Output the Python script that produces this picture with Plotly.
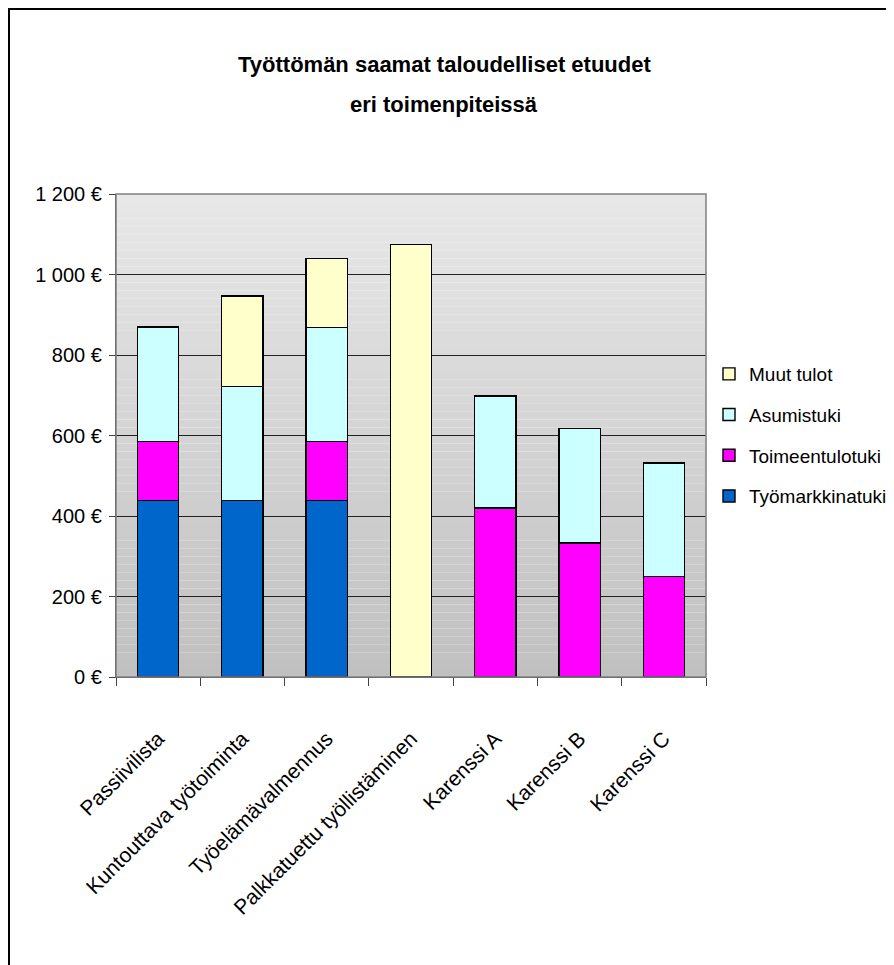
import plotly.graph_objects as go

# ---- data ----
categories = ["Passiivilista", "Kuntouttava työtoiminta", "Työelämävalmennus",
              "Palkkatuettu työllistäminen", "Karenssi A", "Karenssi B", "Karenssi C"]
tyomarkkinatuki = [439, 439, 439, None, None, None, None]
toimeentulotuki = [146, None, 146, None, 420, 333, 250]
asumistuki = [285, 283, 284, None, 278, 284, 282]
muut_tulot = [None, 225, 171, 1074, None, None, None]
y_tick_values = [0, 200, 400, 600, 800, 1000, 1200]
y_tick_labels = ["0 €", "200 €", "400 €", "600 €", "800 €", "1 000 €", "1 200 €"]
title_lines = ["Työttömän saamat taloudelliset etuudet", "eri toimenpiteissä"]

series = [
    ("Työmarkkinatuki", tyomarkkinatuki, "#0066CC", 4),
    ("Toimeentulotuki", toimeentulotuki, "#FF00FF", 3),
    ("Asumistuki", asumistuki, "#CCFFFF", 2),
    ("Muut tulot", muut_tulot, "#FFFFCC", 1),
]

FONT = "Liberation Sans, Arial, sans-serif"

fig = go.Figure()
for name, vals, col, rank in series:
    fig.add_trace(go.Bar(
        x=categories, y=vals, name=name, legendgroup=name, legendrank=rank,
        marker=dict(color=col, line=dict(color="#000000", width=1.4)),
    ))

# page offset (body margin) compensation
OFF = 8
W, H = 886, 957
# target screen coords of plot area: x 116..706, y 194..677
L, R, T, B = 116 - OFF, W - (706 - OFF), 194 - OFF, H - (677 - OFF)
pw, ph = W - L - R, H - T - B
def px(xs):
    return (xs - OFF - L) / pw
def py(ys):
    return (H - B - (ys - OFF)) / ph

# gradient background of plot area
shapes = []
n = 60
top = (0xE8, 0xE8, 0xE8)
bot = (0xC0, 0xC0, 0xC0)
for i in range(n):
    t = (i + 0.5) / n
    c = tuple(round(bot[k] + (top[k] - bot[k]) * t) for k in range(3))
    shapes.append(dict(type="rect", xref="paper", yref="paper",
                       x0=0, x1=1, y0=i / n, y1=(i + 1) / n,
                       fillcolor="rgb(%d,%d,%d)" % c, line=dict(width=0),
                       layer="below"))
# grey plot frame (top/right)
shapes.append(dict(type="rect", xref="paper", yref="paper", x0=0, x1=1, y0=0, y1=1,
                   line=dict(color="#808080", width=1.5), layer="above"))
# outer chart border
shapes.append(dict(type="rect", xref="paper", yref="paper",
                   x0=px(9), x1=px(910), y0=py(990), y1=py(9),
                   line=dict(color="#000000", width=2), layer="above"))

annotations = [
    dict(text="<b>%s</b>" % title_lines[0], xref="paper", yref="paper",
         x=px(444), y=py(64), showarrow=False, xanchor="center", yanchor="middle",
         font=dict(family=FONT, size=22, color="#000000")),
    dict(text="<b>%s</b>" % title_lines[1], xref="paper", yref="paper",
         x=px(444), y=py(104), showarrow=False, xanchor="center", yanchor="middle",
         font=dict(family=FONT, size=22, color="#000000")),
]

fig.update_layout(
    width=W, height=H,
    margin=dict(l=L, r=R, t=T, b=B, pad=0, autoexpand=False),
    barmode="stack", bargap=0.51,
    paper_bgcolor="#FFFFFF", plot_bgcolor="rgba(0,0,0,0)",
    font=dict(family=FONT, size=20, color="#000000"),
    shapes=shapes, annotations=annotations,
    showlegend=True,
    legend=dict(x=px(709), y=py(435), xanchor="left", yanchor="middle",
                traceorder="grouped", tracegroupgap=13,
                font=dict(family=FONT, size=19, color="#000000"),
                bgcolor="rgba(0,0,0,0)"),
    xaxis=dict(type="category", tickson="boundaries", ticks="outside", ticklen=8,
               tickcolor="#404040", tickwidth=1.2, showline=True, linecolor="#404040",
               linewidth=1.2, tickangle=-45, showgrid=False, automargin=False,
               ticklabelstandoff=40,
               tickfont=dict(family=FONT, size=21, color="#000000")),
    yaxis=dict(range=[0, 1200], tickvals=y_tick_values, ticktext=y_tick_labels,
               ticks="outside", ticklen=6, tickcolor="#404040", tickwidth=1.2,
               showline=True, linecolor="#404040", linewidth=1.2,
               showgrid=True, gridcolor="#222222", gridwidth=1,
               zeroline=False, ticklabelstandoff=3, automargin=False,
               tickfont=dict(family=FONT, size=20, color="#000000")),
)

fig.write_html("out.html")
